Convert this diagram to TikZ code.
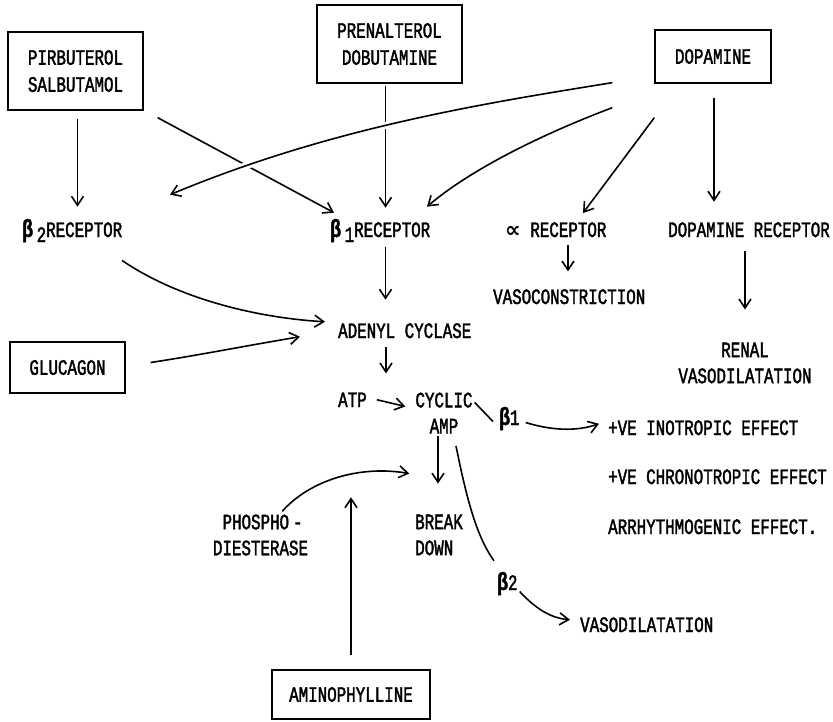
\documentclass[tikz,border=0pt]{standalone}
\usepackage{fontspec}
\setmainfont{Liberation Mono}[FakeStretch=0.72, FakeBold=1.8]
\newfontfamily\symf{DejaVu Sans}
\usetikzlibrary{arrows.meta,calc}
\tikzset{
  lbl/.style={inner sep=0pt, font=\fontsize{22}{26}\selectfont},
  drug/.style={draw, line width=1.3pt, inner sep=0pt, align=center,
    font=\fontsize{22}{27}\selectfont},
  arr/.style={line width=1.6pt, -{Straight Barb[length=9pt,width=12pt,line width=1.6pt]}},
  link/.style={line width=1.6pt},
  gapline/.style={preaction={draw, white, line width=7pt}}
}
\newcommand{\bet}{{\bfseries\fontsize{25}{26}\selectfont β}}
\begin{document}
\begin{tikzpicture}[x=1pt,y=-1pt]
\useasboundingbox (0,0) rectangle (833,721);

% drug boxes
\node[drug, minimum width=135, minimum height=78] (pirb) at (75.5,71) {PIRBUTEROL\\SALBUTAMOL};
\node[drug, minimum width=145, minimum height=78] (pren) at (389.5,44) {PRENALTEROL\\DOBUTAMINE};
\node[drug, minimum width=116, minimum height=53] (dopa) at (713,56.5) {DOPAMINE};
\node[drug, minimum width=115, minimum height=51] (gluc) at (67.5,367.5) {GLUCAGON};
\node[drug, minimum width=158, minimum height=49] (amin) at (351,694.5) {AMINOPHYLLINE};

% receptors
\node[lbl, anchor=base west] (btwo) at (22,237) {\bet\,\raisebox{-5pt}{2}RECEPTOR};
\node[lbl, anchor=base west] (bone) at (330,237) {\bet\,\raisebox{-5pt}{1}RECEPTOR};
\node[lbl, anchor=base west] (alph) at (505,237) {{\symf\bfseries ∝} RECEPTOR};
\node[lbl, anchor=base east] (dopr) at (830,237) {DOPAMINE RECEPTOR};

% effects of the receptors
\node[lbl, anchor=base west] (vcon) at (493,304) {VASOCONSTRICTION};
\node[lbl, anchor=base west] (aden) at (338,338) {ADENYL CYCLASE};
\node[lbl, align=center] (renal) at (745,363) {RENAL\\VASODILATATION};

% cyclic AMP chain
\node[lbl, anchor=base west] (atp) at (338,407) {ATP};
\node[lbl, align=center] (camp) at (444,413) {CYCLIC\\AMP};
\node[lbl, anchor=base west] (bonee) at (499,425) {\bet1};
\node[lbl, anchor=base west] (ino) at (608,435) {+VE INOTROPIC EFFECT};
\node[lbl, anchor=base west] (chro) at (608,484) {+VE CHRONOTROPIC EFFECT};
\node[lbl, anchor=base west] (arrh) at (608,534) {ARRHYTHMOGENIC EFFECT.};
\node[lbl, align=left] (phos) at (260.5,535) {\hspace{9.6pt}PHOSPHO\hspace{4pt}-\\DIESTERASE};
\node[lbl, align=left] (brk) at (439,535) {BREAK\\DOWN};
\node[lbl, anchor=base west] (btwoe) at (497,590) {\bet2};
\node[lbl, anchor=base west] (vdil) at (580,632) {VASODILATATION};

% arrows from the drugs
\draw[arr] ($(pirb.south)+(2,8)$) -- ($(pirb.south)+(2,96)$);
\draw[arr] ($(pirb.south east)+(14,7)$) -- ($(bone.north west)+(4,-6)$);
\draw[arr] ($(pren.south)+(-4,2)$) -- ($(pren.south)+(-4,124)$);
\draw[arr, gapline] ($(dopa.south west)+(-42,-1)$) .. controls (480,104) and (330,128) .. ($(btwo.north west)+(148,-24)$);
\draw[arr] ($(dopa.south west)+(-42,24)$) .. controls (540,135) and (470,170) .. ($(bone.north west)+(97,-12)$);
\draw[arr] ($(dopa.south west)+(0,34)$) -- ($(alph.north west)+(78,-9)$);
\draw[arr] ($(dopa.south)+(1,14)$) -- ($(dopa.south)+(1,118)$);

% receptor outputs
\draw[arr] ($(alph.south west)+(63,8)$) -- ($(alph.south west)+(63,34)$);
\draw[arr] (renal.north |- dopr.south) ++(0,14) -- ++(0,58);
\draw[arr] ($(pren.south)+(-4,163)$) -- ($(pren.south)+(-4,216)$);
\draw[arr] ($(btwo.south west)+(100,18)$) .. controls (180,300) and (260,318) .. ($(aden.west)+(-13,-9)$);
\draw[arr] ($(gluc.east)+(25,-5)$) .. controls (200,355) and (250,345) .. ($(aden.west)+(-38,6)$);
\draw[arr] ($(aden.south west)+(48,9)$) -- ($(aden.south west)+(48,35)$);
\draw[arr] ($(atp.east)+(10,0)$) -- ($(camp.north west)+(-10,14)$);

% cyclic AMP outputs
\draw[link] ($(camp.north east)+(2,10)$) -- ($(bonee.west)+(-6,3)$);
\draw[arr] ($(bonee.east)+(6,4)$) .. controls (550,430) and (575,432) .. ($(ino.west)+(-9,-4)$);
\draw[arr] ($(camp.south)+(-6,2)$) -- ($(camp.south)+(-6,50)$);
\draw[link] (456,446) .. controls (465,490) and (475,535) .. ($(btwoe.north west)+(-3,-11)$);
\draw[arr] ($(btwoe.east)+(2,8)$) .. controls (535,608) and (550,618) .. ($(vdil.west)+(-10,-5)$);
\draw[arr] ($(phos.north east)+(-26,-3)$) .. controls (310,480) and (360,465) .. ($(camp.south west)+(-6,40)$);
\draw[arr] ($(amin.north)+(0,-14)$) -- ($(amin.north)+(0,-172)$);
\end{tikzpicture}
\end{document}
